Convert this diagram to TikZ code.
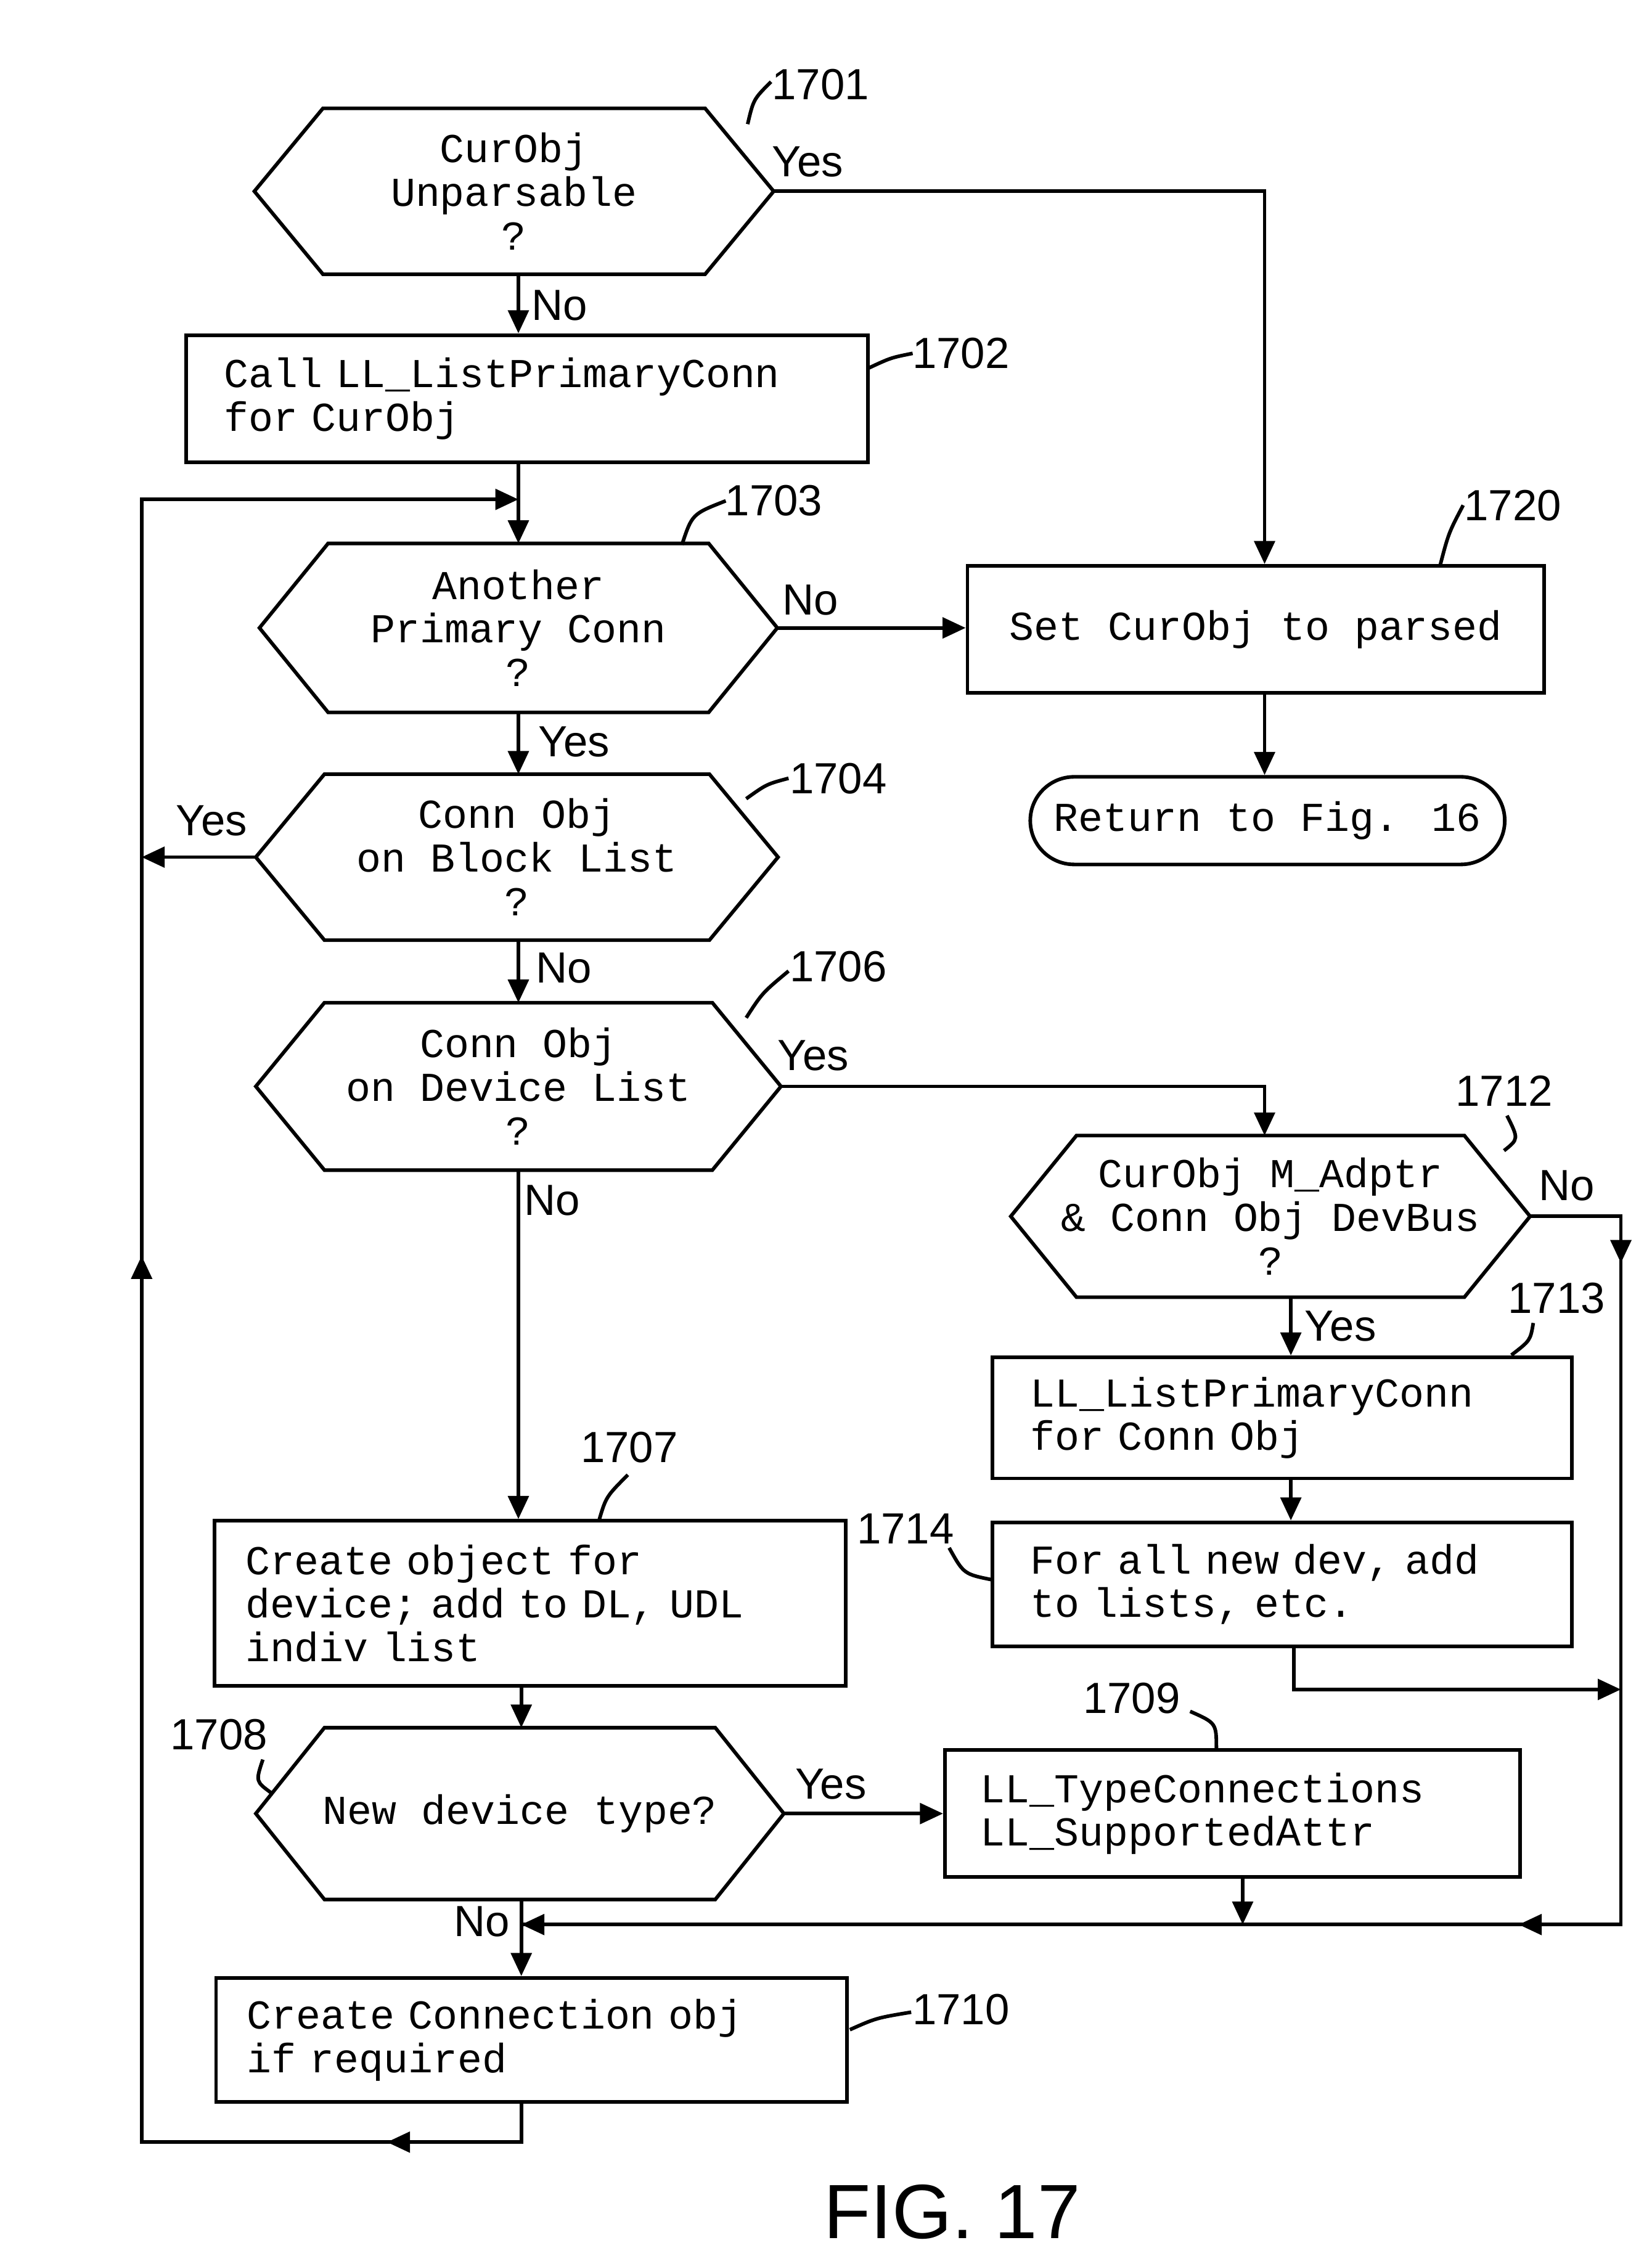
\documentclass[tikz,border=0pt]{standalone}
\usepackage{fontspec}
\setmainfont{Liberation Mono}[WordSpace={1,0,0}]
\newfontfamily\lab{Liberation Sans}
\usetikzlibrary{arrows.meta}
\begin{document}
\begin{tikzpicture}[x=0.02cm,y=-0.02cm,
  lw/.style={line width=1.4pt},
  every node/.style={font=\fontsize{16}{17}\selectfont},
  bx/.style={lw,draw,align=left,inner sep=0pt,inner xsep=12pt},
  hx/.style={inner sep=0pt,align=center},
  ar/.style={lw,-{Triangle[length=9pt,width=8pt]}},
  ln/.style={lw},
  mk/.style={-{Triangle[length=9pt,width=8pt]}},
  lb/.style={font=\lab\fontsize{17}{18}\selectfont},
  num/.style={font=\lab\fontsize{17}{18}\selectfont}]
\useasboundingbox (0,0) rectangle (1131,1545);
\newcommand{\hexa}[2]{%
  \draw[lw] (#1.west) -- ([xshift=#2*0.02cm]#1.north west) -- ([xshift=-#2*0.02cm]#1.north east) -- (#1.east) -- ([xshift=-#2*0.02cm]#1.south east) -- ([xshift=#2*0.02cm]#1.south west) -- cycle;}
% nodes
\node[hx,minimum width=7.1cm,minimum height=2.26cm] (h1701) at (352,131) {CurObj\\Unparsable\\?};
\node[bx,minimum width=9.34cm,minimum height=1.74cm,text width=8.3cm] (b1702) at (361,273) {Call LL\_ListPrimaryConn\\for CurObj};
\node[hx,minimum width=7.08cm,minimum height=2.3cm] (h1703) at (355,430) {Another\\Primary Conn\\?};
\node[hx,minimum width=7.14cm,minimum height=2.26cm] (h1704) at (354,587) {Conn Obj\\on Block List\\?};
\node[hx,minimum width=7.18cm,minimum height=2.28cm] (h1706) at (355,744) {Conn Obj\\on Device List\\?};
\node[hx,minimum width=7.1cm,minimum height=2.2cm] (h1712) at (870,833) {CurObj M\_Adptr\\\& Conn Obj DevBus\\?};
\node[bx,minimum width=7.94cm,minimum height=1.66cm,text width=6.9cm] (b1713) at (878,971) {LL\_ListPrimaryConn\\for Conn Obj};
\node[bx,minimum width=7.94cm,minimum height=1.7cm,text width=6.9cm] (b1714) at (878,1085) {For all new dev, add\\to lists, etc.};
\node[bx,minimum width=7.9cm,minimum height=1.74cm,align=center] (b1720) at (860,431) {Set CurObj to parsed};
\node[lw,draw,rounded corners=0.6cm,minimum width=6.5cm,minimum height=1.2cm,inner sep=0pt] (ret) at (868,562) {Return to Fig. 16};
\node[bx,minimum width=8.62cm,minimum height=2.26cm,text width=7.8cm] (b1707) at (363,1098) {Create object for\\device; add to DL, UDL\\indiv list};
\node[hx,minimum width=7.22cm,minimum height=2.34cm] (h1708) at (356,1242) {New device type?};
\node[bx,minimum width=7.88cm,minimum height=1.74cm,text width=6.9cm] (b1709) at (844,1242) {LL\_TypeConnections\\LL\_SupportedAttr};
\node[bx,minimum width=8.64cm,minimum height=1.7cm,text width=7.8cm] (b1710) at (364,1397) {Create Connection obj\\if required};
\hexa{h1701}{47}\hexa{h1703}{47}\hexa{h1704}{47}\hexa{h1706}{47}\hexa{h1712}{45}\hexa{h1708}{47}
% coordinates
\coordinate (c1) at (866,131);
\coordinate (L1) at (97,342);
\coordinate (L2) at (97,1467);
\coordinate (B1) at (357,1467);
\coordinate (d1) at (866,744);
\coordinate (R1) at (1110,833);
\coordinate (R2) at (1110,1318);
\coordinate (J1) at (357,1318);
\coordinate (k1) at (886,1157);
\coordinate (k2) at (1110,1157);
\coordinate (t1) at (851,1318);
% connectors
\draw[ar] (h1701.east) -- (c1) -- (b1720.north -| c1);
\draw[ar] (h1701.south -| 355,0) -- (b1702.north -| 355,0);
\draw[ar] (b1702.south -| 355,0) -- (h1703.north);
\draw[ar] (B1 |- b1710.south) -- (B1) -- (L2) -- (L1) -- (355,342);
\draw[lw,mk] (B1) -- (265,1467);
\draw[lw,mk] (L2) -- (97,860);
\draw[ar] (h1703.east) -- (b1720.west |- h1703.east);
\draw[ar] (h1703.south) -- (h1704.north -| h1703.south);
\draw[ar] (h1704.west) -- (97,587);
\draw[ar] (h1704.south -| 355,0) -- (h1706.north -| 355,0);
\draw[ar] (h1706.east) -- (d1) -- (h1712.north -| d1);
\draw[ar] (h1706.south) -- (b1707.north -| h1706.south);
\draw[ln] (h1712.east) -- (R1) -- (R2) -- (J1);
\draw[lw,mk] (R1) -- (1110,865);
\draw[lw,mk] (R2) -- (1040,1318);
\draw[ar] (R2) -- (J1);
\draw[ar] (h1712.south -| 884,0) -- (b1713.north -| 884,0);
\draw[ar] (b1713.south -| 884,0) -- (b1714.north -| 884,0);
\draw[ar] (b1714.south -| k1) -- (k1) -- (k2);
\draw[ar] (b1720.south -| c1) -- (ret.north -| c1);
\draw[ar] (b1707.south -| 357,0) -- (h1708.north -| 357,0);
\draw[ar] (h1708.east) -- (b1709.west);
\draw[ar] (b1709.south -| t1) -- (t1);
\draw[ar] (h1708.south -| 357,0) -- (b1710.north -| 357,0);
% labels
\node[lb] (y1) at (553,111) {Yes};
\node[lb] (n1) at (383,209) {No};
\node[lb] (n3) at (555,411) {No};
\node[lb] (y3) at (393,508) {Yes};
\node[lb] (y4) at (145,562) {Yes};
\node[lb] (n4) at (386,663) {No};
\node[lb] (y6) at (557,723) {Yes};
\node[lb] (n6) at (378,822) {No};
\node[lb] (n12) at (1073,812) {No};
\node[lb] (y12) at (918,908) {Yes};
\node[lb] (y8) at (569,1222) {Yes};
\node[lb] (n8) at (330,1316) {No};
% numbers
\node[num] (r1701) at (562,58) {1701};
\node[num] (r1702) at (658,242) {1702};
\node[num] (r1703) at (530,343) {1703};
\node[num] (r1720) at (1036,346) {1720};
\node[num] (r1704) at (574,533) {1704};
\node[num] (r1706) at (574,662) {1706};
\node[num] (r1712) at (1030,747) {1712};
\node[num] (r1713) at (1066,889) {1713};
\node[num] (r1707) at (431,991) {1707};
\node[num] (r1714) at (620,1047) {1714};
\node[num] (r1709) at (775,1163) {1709};
\node[num] (r1708) at (150,1188) {1708};
\node[num] (r1710) at (658,1376) {1710};
\draw[lw] (512,85) .. controls (516,68) .. (528,56);
\draw[lw] (595,252) .. controls (610,245) .. (625,242);
\draw[lw] (467,373) .. controls (474,352) .. (497,343);
\draw[lw] (986,388) .. controls (992,365) .. (1002,346);
\draw[lw] (511,547) .. controls (525,537) .. (540,533);
\draw[lw] (511,697) .. controls (522,680) .. (540,665);
\draw[lw] (1030,788) .. controls (1040,780) .. (1032,764);
\draw[lw] (1035,928) .. controls (1048,918) .. (1050,906);
\draw[lw] (410,1042) .. controls (415,1025) .. (430,1010);
\draw[lw] (680,1082) .. controls (660,1078) .. (650,1060);
\draw[lw] (833,1198) .. controls (833,1180) .. (815,1172);
\draw[lw] (186,1228) .. controls (175,1220) .. (180,1205);
\draw[lw] (582,1390) .. controls (600,1382) .. (624,1378);
\node[font=\lab\fontsize{30}{32}\selectfont] (fig) at (652,1515) {FIG. 17};
\end{tikzpicture}
\end{document}
